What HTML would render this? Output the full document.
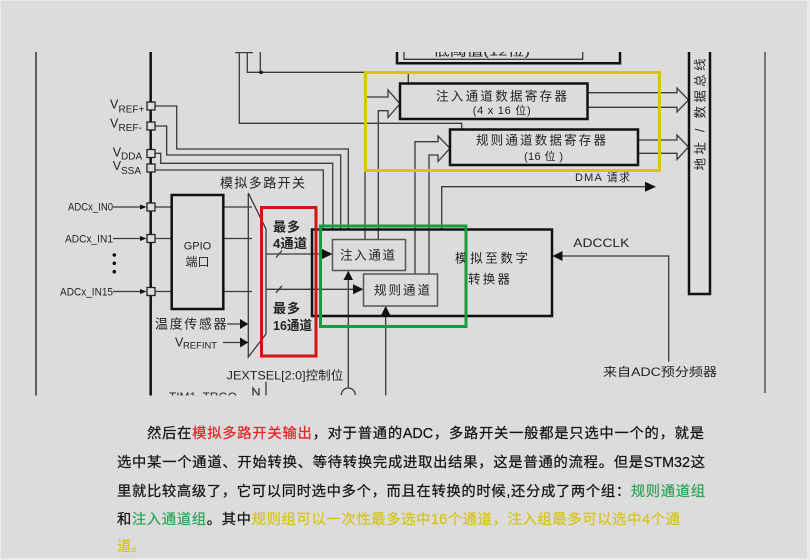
<!DOCTYPE html>
<html>
<head>
<meta charset="utf-8">
<style>
html,body{margin:0;padding:0;}
body{width:810px;height:560px;overflow:hidden;background:#eaeaea;position:relative;}
#bg{position:absolute;left:1px;top:1px;width:806px;height:557px;background:#dcdcdc;}
.l{position:absolute;font-family:"Liberation Sans","Noto Sans CJK SC",sans-serif;font-size:14.3px;line-height:20px;height:20px;color:#141414;text-align:justify;text-align-last:justify;overflow:visible;-webkit-text-stroke:0.25px currentColor;}
.r{color:#e3262b;}
.g{color:#2ea55a;}
.y{color:#d6c51a;}
</style>
</head>
<body>
<div id="bg"></div>
<svg width="810" height="560" viewBox="0 0 810 560" style="position:absolute;left:0;top:0" font-family="'Liberation Sans','Noto Sans CJK SC',sans-serif">
<defs>
<clipPath id="cp"><rect x="0" y="52" width="810" height="343.5"/></clipPath>
</defs>
<g clip-path="url(#cp)">
<!-- thin lines -->
<g fill="none" stroke="#3a3a3a" stroke-width="1.3">
<path d="M235,52.6 H253"/>
<path d="M239.3,52 V123.3 H461.7 V129.5"/>
<path d="M247.3,52 V72.3 H408.3 V83.5"/>
<path d="M260.3,52 V72.3"/>
<path d="M404,50 V59.3 H582.7 V50"/>
<path d="M155,106 H176.7 V149 H348.3 V229.5"/>
<path d="M155,126 H166.7 V155 H340.7 V229.5"/>
<path d="M155,153.3 H160.7 V163.3 H332.7 V229.5"/>
<path d="M155,170 H323.3 V229.5"/>
<path d="M365,239.5 V97 H388 V90 L400,103.8 L388,117.5 V110.7 H378.3 V239.5"/>
<path d="M415,274 V141.7 H438 V136 L450,148.3 L438,161.5 V155 H429 V274"/>
<path d="M441.7,229.5 V186.7 H646"/>
<path d="M587.5,92.7 H677 V88 L688.5,100 L677,112 V107.3 H587.5"/>
<path d="M638,140 H677 V135 L688.5,147 L677,159.5 V153.3 H638"/>
<path d="M668.7,361.7 V256 H562"/>
<path d="M113,207 H141 M113,238.5 H141 M113,291.5 H141"/>
<path d="M155,207 H171.7 M155,238.5 H171.7 M155,291.5 H171.7"/>
<path d="M223.3,207 H252 M223.3,238.5 H252 M223.3,291.5 H252"/>
<path d="M248.3,193 L266,229 V334 L248.3,357 Z"/>
<path d="M227,324 H241 M223,342.5 H241"/>
<path d="M266,254 H323 M276,257.5 L282,250.5"/>
<path d="M266,289.3 H354 M276,292.8 L282,285.8"/>
<path d="M348.3,388 V279 M385.7,396 V314"/>
<path d="M341.3,395 A7,7 0 0 1 355.3,395"/>
<path d="M253,396 V388 L259,396 V388 M266,381.7 V396"/>
</g>
<path d="M765,52 V393" stroke="#555" stroke-width="1.5" fill="none"/>
<path d="M36,52 V396" stroke="#333" stroke-width="1.5" fill="none"/>
<!-- arrowheads -->
<g fill="#111">
<polygon points="322,249 332.5,254 322,259"/>
<polygon points="353,284.3 363.5,289.3 353,294.3"/>
<polygon points="343.5,280 348.3,270.7 353,280"/>
<polygon points="381,315.5 385.7,306 390.5,315.5"/>
<polygon points="645,181.7 656,186.7 645,191.7"/>
<polygon points="562.5,251 552.5,256 562.5,261"/>
<polygon points="140,204.5 146.5,207 140,209.5"/>
<polygon points="140,236 146.5,238.5 140,241"/>
<polygon points="140,289 146.5,291.5 140,294"/>
<polygon points="240,319 248.3,324 240,329"/>
<polygon points="240,337.5 248.3,342.5 240,347.5"/>
<circle cx="261" cy="72.3" r="1.8"/>
<circle cx="114.3" cy="255" r="1.8"/>
<circle cx="114.3" cy="263.3" r="1.8"/>
<circle cx="114.3" cy="271.7" r="1.8"/>
</g>
<!-- thick boxes -->
<g fill="none" stroke="#111" stroke-width="2.5">
<path d="M397,50 V63.3 H620 V50"/>
<rect x="400" y="83.5" width="187.5" height="35.5"/>
<rect x="450" y="129.5" width="188" height="35.5"/>
<rect x="689" y="40" width="21" height="254"/>
<rect x="171.7" y="195" width="51.6" height="114"/>
<rect x="312" y="229.5" width="240" height="86.5"/>
<path d="M150.7,52 V396"/>
</g>
<g fill="#dcdcdc" stroke="#222" stroke-width="1.3">
<rect x="147" y="102" width="8" height="8"/>
<rect x="147" y="122" width="8" height="8"/>
<rect x="147" y="149.5" width="8" height="8"/>
<rect x="147" y="164" width="8" height="8"/>
<rect x="147" y="203" width="8" height="8"/>
<rect x="147" y="234.5" width="8" height="8"/>
<rect x="147" y="287.5" width="8" height="8"/>
</g>
<g fill="none" stroke="#555" stroke-width="1.5">
<rect x="332.5" y="239.5" width="73" height="31"/>
<rect x="363.5" y="274" width="74" height="32"/>
</g>
<!-- text -->
<g fill="#222">
<text x="433" y="55.5" font-size="11" textLength="97" lengthAdjust="spacingAndGlyphs">低阈值(12位)</text>
<text x="436" y="100.5" font-size="12.5" textLength="131" lengthAdjust="spacing">注入通道数据寄存器</text>
<text x="472.7" y="114" font-size="11" textLength="58" lengthAdjust="spacing">(4 x 16 位)</text>
<text x="476" y="144.5" font-size="12.5" textLength="130" lengthAdjust="spacing">规则通道数据寄存器</text>
<text x="524" y="160" font-size="11" textLength="39" lengthAdjust="spacing">(16 位 )</text>
<text x="575" y="181" font-size="11" textLength="55" lengthAdjust="spacing">DMA 请求</text>
<text transform="translate(704.5,114.5) rotate(-90)" font-size="12.5" text-anchor="middle" textLength="112" lengthAdjust="spacing">地址 / 数据总线</text>
<text x="220" y="187.5" font-size="13" textLength="85" lengthAdjust="spacing">模拟多路开关</text>
<text x="110" y="108.3" font-size="12.5">V</text><text x="118.5" y="112.5" font-size="10">REF+</text>
<text x="110" y="127.7" font-size="12.5">V</text><text x="118.5" y="131" font-size="10">REF-</text>
<text x="112.7" y="156.7" font-size="12.5">V</text><text x="121" y="159.5" font-size="10">DDA</text>
<text x="112.7" y="170" font-size="12.5">V</text><text x="121" y="174" font-size="10">SSA</text>
<text x="68" y="210.7" font-size="11" textLength="45" lengthAdjust="spacingAndGlyphs">ADCx_IN0</text>
<text x="65" y="242.3" font-size="11" textLength="48" lengthAdjust="spacingAndGlyphs">ADCx_IN1</text>
<text x="60" y="295.7" font-size="11" textLength="53" lengthAdjust="spacingAndGlyphs">ADCx_IN15</text>
<text x="197.5" y="249.5" font-size="11" text-anchor="middle">GPIO</text>
<text x="197.5" y="266" font-size="12" text-anchor="middle">端口</text>
<text x="273" y="231.5" font-size="13" font-weight="bold" textLength="27" lengthAdjust="spacing">最多</text>
<text x="273" y="248" font-size="13" font-weight="bold" textLength="34" lengthAdjust="spacingAndGlyphs">4通道</text>
<text x="273" y="313" font-size="13" font-weight="bold" textLength="27" lengthAdjust="spacing">最多</text>
<text x="273" y="330" font-size="13" font-weight="bold" textLength="39" lengthAdjust="spacingAndGlyphs">16通道</text>
<text x="155" y="328.5" font-size="13" textLength="71.5" lengthAdjust="spacing">温度传感器</text>
<text x="175" y="346.7" font-size="12.5">V</text><text x="183" y="348.5" font-size="9.5" textLength="34" lengthAdjust="spacingAndGlyphs">REFINT</text>
<text x="226.7" y="379.5" font-size="12" textLength="116.6" lengthAdjust="spacingAndGlyphs">JEXTSEL[2:0]控制位</text>
<text x="340" y="259.5" font-size="12.5" textLength="55" lengthAdjust="spacing">注入通道</text>
<text x="374" y="294.5" font-size="12.5" textLength="56" lengthAdjust="spacing">规则通道</text>
<text x="455" y="262.5" font-size="12.5" textLength="73" lengthAdjust="spacing">模拟至数字</text>
<text x="468" y="283.5" font-size="12.5" textLength="42" lengthAdjust="spacing">转换器</text>
<text x="573.3" y="247" font-size="12" textLength="56" lengthAdjust="spacingAndGlyphs">ADCCLK</text>
<text x="603" y="376" font-size="12" textLength="114" lengthAdjust="spacingAndGlyphs">来自ADC预分频器</text>
<text x="169" y="401" font-size="12" textLength="68" lengthAdjust="spacingAndGlyphs">TIM1_TRGO</text>
</g>
<!-- highlight boxes -->
<g fill="none" stroke-width="3">
<rect x="365.5" y="72.5" width="294" height="98" stroke="#d8c400"/>
<rect x="261.5" y="207.5" width="54.5" height="148.5" stroke="#d01414"/>
<rect x="320.5" y="226" width="145.5" height="100.5" stroke="#169c3c"/>
</g>
</g>
</svg>

<div class="l" style="left:147px;top:424px;width:557px;">然后在<span class="r">模拟多路开关输出</span>，对于普通的ADC，多路开关一般都是只选中一个的，就是</div>
<div class="l" style="left:117px;top:453px;width:588px;">选中某一个通道、开始转换、等待转换完成进取出结果，这是普通的流程。但是STM32这</div>
<div class="l" style="left:117px;top:481.5px;width:588px;">里就比较高级了，它可以同时选中多个，而且在转换的时候,还分成了两个组：<span class="g">规则通道组</span></div>
<div class="l" style="left:117px;top:510px;width:563px;">和<span class="g">注入通道组</span>。其中<span class="y">规则组可以一次性最多选中16个通道，注入组最多可以选中4个通</span></div>
<div class="l" style="left:117px;top:537px;text-align:left;text-align-last:left;"><span class="y">道。</span></div>
</body>
</html>
